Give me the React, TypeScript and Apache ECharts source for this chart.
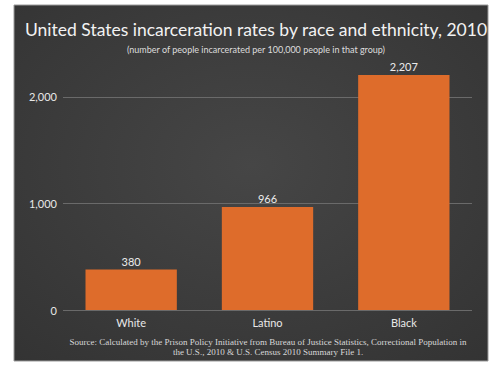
import React, { useEffect, useRef } from "react";
import * as echarts from "echarts";

const categories = ["White", "Latino", "Black"];
const rates = [380, 966, 2207];
const yTicks = [0, 1000, 2000];

const titleText = "United States incarceration rates by race and ethnicity, 2010";
const subtitleText = "(number of people incarcerated per 100,000 people in that group)";
const sourceLines = [
  "Source: Calculated by the Prison Policy Initiative from Bureau of Justice Statistics, Correctional Population in",
  "the U.S., 2010 & U.S. Census 2010 Summary File 1.",
];

const fmt = (v: number) => v.toLocaleString("en-US");

export default function App() {
  const ref = useRef<HTMLDivElement>(null);
  useEffect(() => {
    if (!ref.current) return;
    const chart = echarts.init(ref.current, null, { renderer: "svg" });
    chart.setOption({
      animation: false,
      backgroundColor: "#ffffff",
      graphic: [
        {
          type: "rect",
          z: -10,
          silent: true,
          shape: { x: 14, y: 5, width: 474, height: 356 },
          style: {
            fill: {
              type: "radial",
              x: 0.5,
              y: 0.45,
              r: 0.75,
              colorStops: [
                { offset: 0, color: "#464646" },
                { offset: 1, color: "#333333" },
              ],
            },
            stroke: "#9a9a9a",
            lineWidth: 1,
          },
        },
        {
          type: "text",
          x: 268,
          y: 347,
          style: {
            text: sourceLines.join("\n"),
            fill: "#d8d8d8",
            font: "9px 'Liberation Serif', serif",
            align: "center",
            verticalAlign: "middle",
            lineHeight: 10.5,
          },
        },
      ],
      title: {
        text: titleText,
        subtext: subtitleText,
        left: 251,
        textAlign: "center",
        top: 15,
        itemGap: 7,
        textStyle: {
          color: "#f2f2f2",
          fontFamily: "Lato",
          fontWeight: "normal",
          fontSize: 17.5,
        },
        subtextStyle: {
          color: "#dddddd",
          fontFamily: "Lato",
          fontSize: 9,
        },
      },
      grid: { left: 63, right: 28, top: 65, bottom: 65 },
      xAxis: {
        type: "category",
        data: categories,
        axisLine: { show: false },
        axisTick: { show: false },
        axisLabel: {
          color: "#e8e8e8",
          fontFamily: "Lato",
          fontSize: 11,
          margin: 7,
        },
      },
      yAxis: {
        type: "value",
        min: 0,
        max: 2300,
        interval: 1000,
        axisLine: { show: false },
        axisTick: { show: false },
        axisLabel: {
          color: "#e8e8e8",
          fontFamily: "Lato",
          fontSize: 11,
          margin: 6,
          showMaxLabel: false,
          formatter: (v: number) => (yTicks.includes(v) ? fmt(v) : ""),
        },
        splitLine: {
          show: true,
          showMaxLine: false,
          lineStyle: { color: "#6a6a6a", width: 1 },
        },
      },
      series: [
        {
          type: "bar",
          data: rates,
          barCategoryGap: "33%",
          itemStyle: { color: "#de6c2b" },
          label: {
            show: true,
            position: "top",
            distance: 3,
            color: "#ececec",
            fontFamily: "Lato",
            fontSize: 11,
            formatter: (p: any) => fmt(p.value),
          },
        },
      ],
    });
    return () => chart.dispose();
  }, []);
  return (
    <div
      ref={ref}
      style={{ position: "fixed", left: 0, top: 0, width: 500, height: 375 }}
    />
  );
}
